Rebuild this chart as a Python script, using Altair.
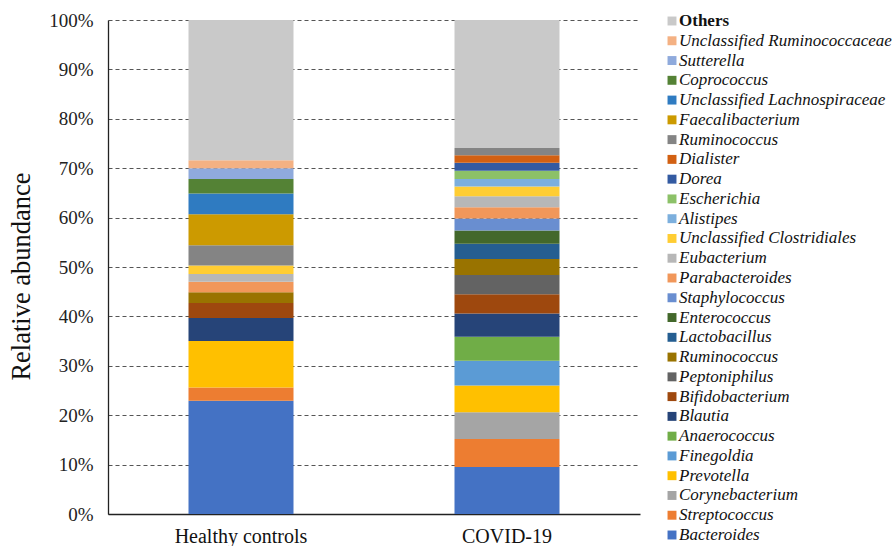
import altair as alt
import pandas as pd

# Sample groups (x axis)
groups = ["Healthy controls", "COVID-19"]

# Genera from the bottom of the stack to the top (keys must be unique)
taxa_keys = [
    "Bacteroides", "Streptococcus", "Corynebacterium", "Prevotella", "Finegoldia",
    "Anaerococcus", "Blautia", "Bifidobacterium", "Peptoniphilus", "Ruminococcus_a",
    "Lactobacillus", "Enterococcus", "Staphylococcus", "Parabacteroides", "Eubacterium",
    "Unclassified Clostridiales", "Alistipes", "Escherichia", "Dorea", "Dialister",
    "Ruminococcus_b", "Faecalibacterium", "Unclassified Lachnospiraceae", "Coprococcus",
    "Sutterella", "Unclassified Ruminococcaceae", "Others",
]
taxa_labels = [
    "Bacteroides", "Streptococcus", "Corynebacterium", "Prevotella", "Finegoldia",
    "Anaerococcus", "Blautia", "Bifidobacterium", "Peptoniphilus", "Ruminococcus",
    "Lactobacillus", "Enterococcus", "Staphylococcus", "Parabacteroides", "Eubacterium",
    "Unclassified Clostridiales", "Alistipes", "Escherichia", "Dorea", "Dialister",
    "Ruminococcus", "Faecalibacterium", "Unclassified Lachnospiraceae", "Coprococcus",
    "Sutterella", "Unclassified Ruminococcaceae", "Others",
]
taxa_colors = [
    "#4472C4", "#ED7D31", "#A5A5A5", "#FFC000", "#5B9BD5",
    "#70AD47", "#264478", "#9E480E", "#636363", "#997300",
    "#255E91", "#43682B", "#698ED0", "#F1975A", "#B7B7B7",
    "#FFCD33", "#7CAFDD", "#8CC168", "#335AA1", "#D26012",
    "#848484", "#CC9A00", "#2F7BC1", "#548235",
    "#8FAADC", "#F4B183", "#C9C9C9",
]

# Relative abundance (%) per genus
healthy_pct = [
    22.9, 2.7, 0.0, 9.4, 0.0,
    0.0, 4.7, 3.0, 0.0, 2.2,
    0.0, 0.0, 0.0, 2.1, 1.6,
    1.7, 0.0, 0.0, 0.0, 0.0,
    4.1, 6.3, 4.2, 2.9,
    2.2, 1.6, 28.4,
]
covid_pct = [
    9.5, 5.7, 5.4, 5.4, 5.0,
    4.9, 4.7, 3.9, 3.9, 3.2,
    3.1, 2.7, 2.4, 2.3, 2.2,
    2.0, 1.5, 1.7, 1.6, 1.5,
    1.5, 0.0, 0.0, 0.0,
    0.0, 0.0, 25.9,
]

y_ticks = [i / 10 for i in range(11)]

rows = []
for g, vals in zip(groups, [healthy_pct, covid_pct]):
    for i, (k, v) in enumerate(zip(taxa_keys, vals)):
        rows.append({"group": g, "taxon": k, "idx": i, "share": v / 100})
df = pd.DataFrame(rows)

legend_df = pd.DataFrame({
    "taxon": taxa_keys[::-1],
    "label": taxa_labels[::-1],
})

FONT = "Liberation Serif, Times New Roman, serif"

color_scale = alt.Scale(domain=taxa_keys, range=taxa_colors)

bars = alt.Chart(df).mark_bar(size=105).encode(
    x=alt.X("group:N", sort=groups, title=None,
            axis=alt.Axis(labelAngle=0, ticks=False, labelPadding=12,
                          labelFontSize=20, labelFont=FONT, labelColor="#111",
                          domainColor="#222", domainWidth=1.3)),
    y=alt.Y("share:Q", stack="zero", title="Relative abundance",
            scale=alt.Scale(domain=[0, 1], nice=False),
            axis=alt.Axis(values=y_ticks, format=".0%", ticks=False,
                          labelPadding=15, labelFontSize=19, labelFont=FONT,
                          labelColor="#222", titleFont=FONT, titleFontSize=26.5,
                          titleFontWeight="normal", titleColor="#111",
                          titlePadding=13, titleY=256,
                          domainColor="#222", domainWidth=1.3,
                          grid=True, gridDash=[4, 3], gridColor="#555",
                          gridWidth=1.1)),
    color=alt.Color("taxon:N", scale=color_scale, legend=None),
    order=alt.Order("idx:Q", sort="ascending"),
).properties(width=532, height=494)

leg_y = alt.Y("taxon:N", sort=taxa_keys[::-1], axis=None,
              scale=alt.Scale(type="point", range=[1, 515], padding=0))

swatches = alt.Chart(legend_df).mark_square(size=80, opacity=1).encode(
    x=alt.value(32),
    y=leg_y,
    color=alt.Color("taxon:N", scale=color_scale, legend=None),
)

names_italic = alt.Chart(legend_df).transform_filter(
    alt.datum.taxon != "Others"
).mark_text(align="left", baseline="middle", font=FONT, fontSize=17,
            fontStyle="italic", color="#111").encode(
    x=alt.value(39),
    y=leg_y,
    text="label:N",
)

names_plain = alt.Chart(legend_df).transform_filter(
    alt.datum.taxon == "Others"
).mark_text(align="left", baseline="middle", font=FONT, fontSize=17,
            fontWeight="bold", color="#111").encode(
    x=alt.value(39),
    y=leg_y,
    text="label:N",
)

legend_panel = alt.layer(swatches, names_italic, names_plain).properties(
    width=250, height=516
)

chart = alt.hconcat(bars, legend_panel, spacing=0).resolve_scale(
    color="shared"
).configure(
    background="white"
).configure_view(
    strokeWidth=0, stroke="transparent"
).properties(
    padding={"left": 8, "top": 11, "right": 0, "bottom": 0},
)

chart.save("out.html", embed_options={"renderer": "svg", "actions": False})
